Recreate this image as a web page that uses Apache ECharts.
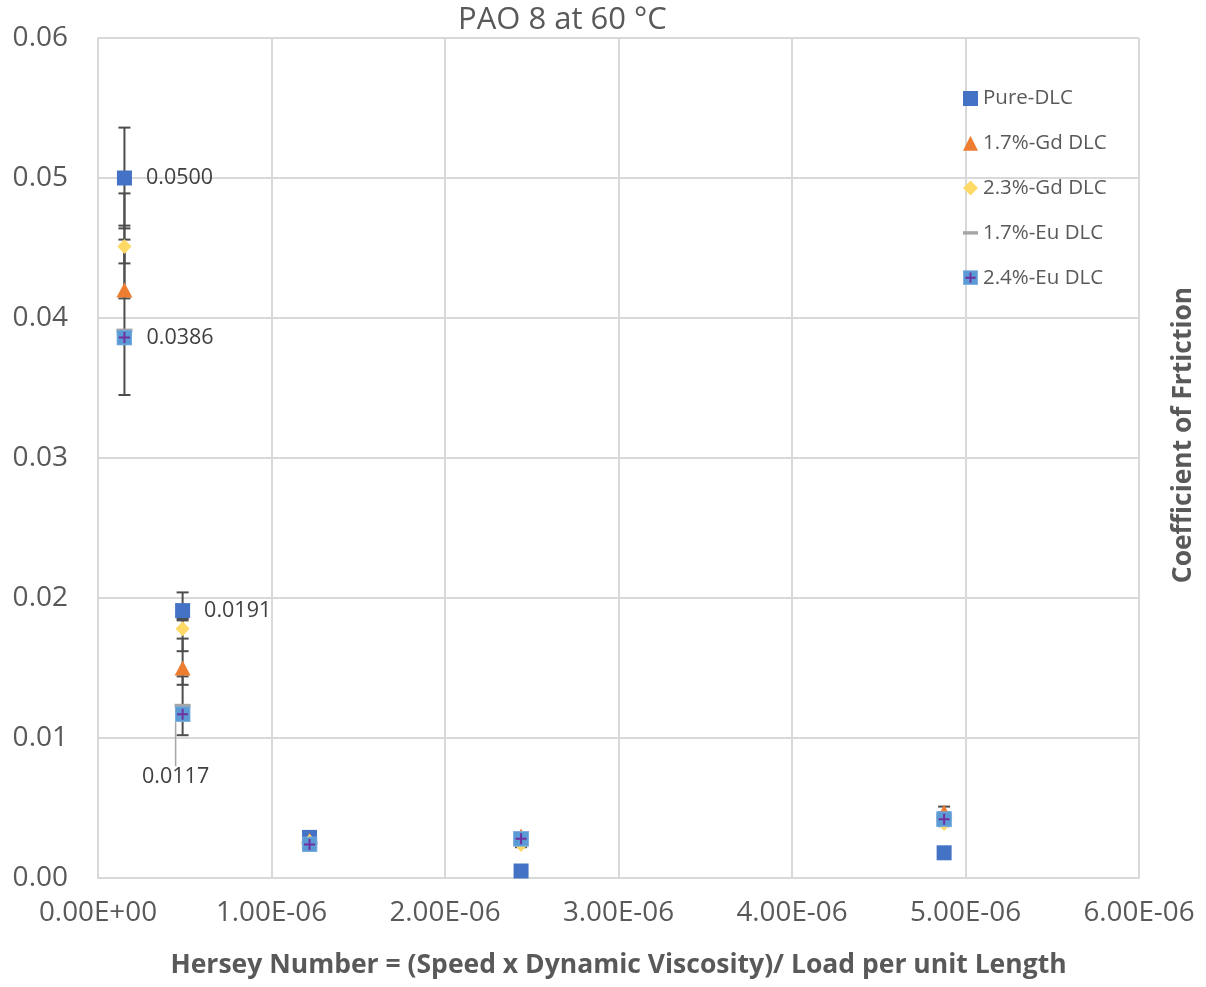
<!DOCTYPE html>
<html>
<head>
<meta charset="utf-8">
<script src="https://cdn.jsdelivr.net/npm/echarts@6/dist/echarts.min.js"></script>
<style>
  html, body { margin: 0; padding: 0; background: #ffffff; }
  #chart { width: 1206px; height: 987px; }
</style>
</head>
<body>
<div id="chart"></div>
<script>
// Hersey number (x) for each test condition
const hersey = [0.1524e-6, 0.4877e-6, 1.2192e-6, 2.4384e-6, 4.8768e-6];

// Coefficient of friction per coating
const pureDLC = [0.0500, 0.0191, 0.0029, 0.0005, 0.0018];
const gd17 = [0.0420, 0.0150, 0.0027, 0.0030, 0.0047];
const gd23 = [0.0451, 0.0178, 0.0026, 0.0024, 0.0039];
const eu17 = [0.0391, 0.0123, 0.0025, 0.0029, 0.0044];
const eu24 = [0.0386, 0.0117, 0.0024, 0.0028, 0.0042];

// Error bar extents (above / below each point)
const pureUp = [0.0036, 0.0013, 0, 0, 0];
const pureDown = [0.0036, 0.0007, 0, 0, 0];
const gd17Up = [0.0069, 0.0021, 0.0002, 0.0002, 0.0004];
const gd17Down = [0.0006, 0.0012, 0.0002, 0.0002, 0.0002];
const gd23Up = [0.0015, 0.0007, 0.0002, 0.0002, 0.0002];
const gd23Down = [0.0012, 0.0016, 0.0002, 0.0002, 0.0002];
const eu17Up = [0.0065, 0.0021, 0.0002, 0.0002, 0.0003];
const eu17Down = [0.0046, 0.0021, 0.0002, 0.0002, 0.0002];
const eu24Up = [0.0003, 0.0002, 0.0002, 0.0002, 0.0002];
const eu24Down = [0.0003, 0.0002, 0.0002, 0.0002, 0.0002];

// Axis tick labels
const xTickLabels = ['0.00E+00', '1.00E-06', '2.00E-06', '3.00E-06', '4.00E-06', '5.00E-06', '6.00E-06'];
const yTickLabels = ['0.00', '0.01', '0.02', '0.03', '0.04', '0.05', '0.06'];

const FONT = '"Open Sans", "Noto Sans", sans-serif';

function svgIcon(svg) {
  return 'image://data:image/svg+xml;charset=utf-8,' + encodeURIComponent(svg);
}
const plusSquare = svgIcon(
  "<svg xmlns='http://www.w3.org/2000/svg' width='32' height='32' viewBox='0 0 16 16'>" +
  "<rect x='0.5' y='0.5' width='15' height='15' fill='#5B9BD5' stroke='#7FAFE0' stroke-width='1'/>" +
  "<path d='M8 2.5V13.5M2.5 8H13.5' stroke='#7030A0' stroke-width='2'/></svg>");
const dashIcon = svgIcon(
  "<svg xmlns='http://www.w3.org/2000/svg' width='32' height='32' viewBox='0 0 16 16'>" +
  "<rect x='0' y='6.2' width='16' height='3.6' fill='#A5A5A5'/></svg>");

function pts(ys) { return ys.map((y, i) => [hersey[i], y]); }

// Rows for the error-bar custom series: [x, y, up, down]
const errRows = [];
[[pureDLC, pureUp, pureDown], [gd17, gd17Up, gd17Down], [gd23, gd23Up, gd23Down],
 [eu17, eu17Up, eu17Down], [eu24, eu24Up, eu24Down]].forEach(([ys, up, dn]) => {
  ys.forEach((y, i) => { if (up[i] > 0 || dn[i] > 0) errRows.push([hersey[i], y, up[i], dn[i]]); });
});

const labelStyle = { fontFamily: FONT, fontSize: 21.5, color: '#404040' };

function valueLabel(pos, extra) {
  return Object.assign({ show: true, position: pos, distance: 14,
    formatter: p => p.value[1].toFixed(4) }, labelStyle, extra || {});
}

const chart = echarts.init(document.getElementById('chart'), null, { renderer: 'canvas' });

chart.setOption({
  backgroundColor: '#ffffff',
  animation: false,
  title: {
    text: 'PAO 8 at 60 °C',
    left: 453, top: 0,
    textStyle: { fontFamily: FONT, fontSize: 31, fontWeight: 'normal', color: '#595959' }
  },
  grid: { left: 98, right: 67, top: 38, bottom: 109, containLabel: false },
  legend: {
    orient: 'vertical',
    left: 958, top: 83,
    itemWidth: 15, itemHeight: 15, itemGap: 23.8,
    textStyle: { fontFamily: FONT, fontSize: 20.5, color: '#595959' },
    data: [
      { name: 'Pure-DLC', icon: 'rect' },
      { name: '1.7%-Gd DLC', icon: 'triangle' },
      { name: '2.3%-Gd DLC', icon: 'diamond' },
      { name: '1.7%-Eu DLC', icon: dashIcon },
      { name: '2.4%-Eu DLC', icon: plusSquare }
    ]
  },
  xAxis: {
    type: 'value', min: 0, max: 6e-6, interval: 1e-6,
    name: 'Hersey Number = (Speed x Dynamic Viscosity)/ Load per unit Length',
    nameLocation: 'middle', nameGap: 74,
    nameTextStyle: { fontFamily: FONT, fontSize: 26.5, fontWeight: 'bold', color: '#595959' },
    axisLine: { show: true, lineStyle: { color: '#d9d9d9', width: 2 } },
    axisTick: { show: false },
    splitLine: { show: true, lineStyle: { color: '#d9d9d9', width: 2 } },
    axisLabel: {
      margin: 21, fontFamily: FONT, fontSize: 27.8, color: '#595959',
      formatter: v => xTickLabels[Math.round(v / 1e-6)]
    }
  },
  yAxis: [{
    type: 'value', min: 0, max: 0.06, interval: 0.01,
    axisLine: { show: true, lineStyle: { color: '#d9d9d9', width: 2 } },
    axisTick: { show: false },
    splitLine: { show: true, lineStyle: { color: '#d9d9d9', width: 2 } },
    axisLabel: {
      margin: 30, fontFamily: FONT, fontSize: 28, color: '#595959',
      formatter: v => yTickLabels[Math.round(v / 0.01)]
    }
  }, {
    type: 'value', min: 0, max: 0.06, position: 'right',
    name: 'Coefficient of Frtiction',
    nameLocation: 'middle', nameGap: 31, nameRotate: 90,
    nameTextStyle: { fontFamily: FONT, fontSize: 26.4, fontWeight: 'bold', color: '#595959',
      padding: [0, 0, 0, 46] },
    axisLine: { show: false }, axisTick: { show: false },
    axisLabel: { show: false }, splitLine: { show: false }
  }],
  series: [
    {
      name: 'errorBars', type: 'custom', z: 1, silent: true,
      data: errRows,
      renderItem: function (params, api) {
        const x = api.value(0), y = api.value(1);
        const top = api.coord([x, y + api.value(2)]);
        const bot = api.coord([x, y - api.value(3)]);
        const hw = 6;
        const style = { stroke: '#4d4d4d', lineWidth: 2 };
        return {
          type: 'group',
          children: [
            { type: 'line', shape: { x1: top[0], y1: top[1], x2: bot[0], y2: bot[1] }, style },
            { type: 'line', shape: { x1: top[0] - hw, y1: top[1], x2: top[0] + hw, y2: top[1] }, style },
            { type: 'line', shape: { x1: bot[0] - hw, y1: bot[1], x2: bot[0] + hw, y2: bot[1] }, style }
          ]
        };
      }
    },
    {
      name: 'Pure-DLC', type: 'scatter', z: 2, symbol: 'rect', symbolSize: 15,
      itemStyle: { color: '#4472C4', opacity: 1 },
      data: pts(pureDLC).map((d, i) => i < 2 ? { value: d, label: valueLabel('right') } : d)
    },
    {
      name: '1.7%-Gd DLC', type: 'scatter', z: 3, symbol: 'triangle', symbolSize: [16, 15],
      itemStyle: { color: '#ED7D31', opacity: 1 },
      data: pts(gd17)
    },
    {
      name: '2.3%-Gd DLC', type: 'scatter', z: 4, symbol: 'diamond', symbolSize: [14, 15],
      itemStyle: { color: '#FFD966', opacity: 1 },
      data: pts(gd23)
    },
    {
      name: '1.7%-Eu DLC', type: 'scatter', z: 5, symbol: 'rect', symbolSize: [16, 4],
      itemStyle: { color: '#A5A5A5', opacity: 1 },
      data: pts(eu17)
    },
    {
      name: '2.4%-Eu DLC', type: 'scatter', z: 6, symbol: plusSquare, symbolSize: 16,
      itemStyle: { color: '#5B9BD5', opacity: 1 },
      labelLayout: function (p) {
        if (p.dataIndex === 1) return { dx: -7, dy: 40 };
        return {};
      },
      data: pts(eu24).map((d, i) => {
        if (i === 0) return { value: d, label: valueLabel('right') };
        if (i === 1) return {
          value: d,
          label: valueLabel('bottom', { distance: 4 }),
          labelLine: { show: true, lineStyle: { color: '#a6a6a6', width: 1.5 } }
        };
        return d;
      })
    }
  ]
});
</script>
</body>
</html>
